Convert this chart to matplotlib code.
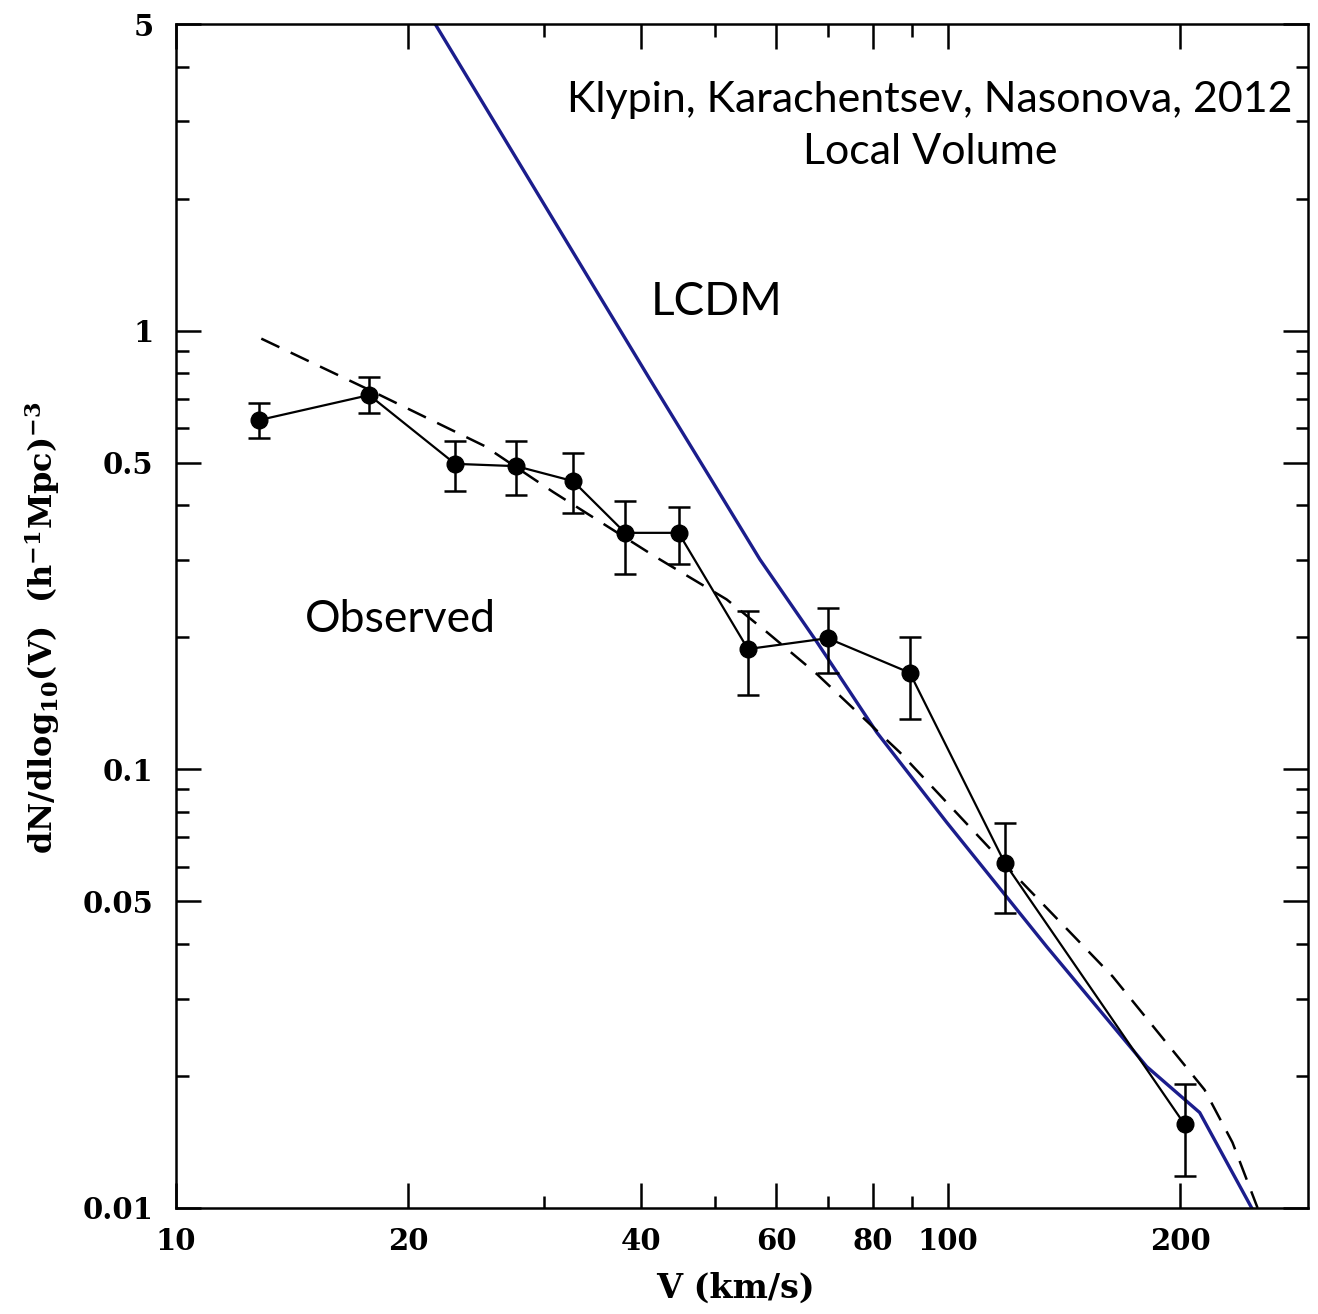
import matplotlib
matplotlib.use('Agg')
import matplotlib.pyplot as plt
import numpy as np
from matplotlib.ticker import FixedLocator, FixedFormatter, NullFormatter

plt.rcParams['mathtext.fontset'] = 'dejavuserif'

# observed points (V in km/s, dN/dlogV) with error bar ends
v_obs = [12.8, 17.8, 23.0, 27.6, 32.7, 38.2, 44.8, 55.1, 69.9, 89.3, 118.6, 202.8]
n_obs = [0.625, 0.713, 0.497, 0.491, 0.454, 0.346, 0.346, 0.188, 0.199, 0.166, 0.0611, 0.0155]
n_hi = [0.684, 0.784, 0.560, 0.560, 0.526, 0.409, 0.396, 0.230, 0.233, 0.200, 0.0754, 0.0192]
n_lo = [0.569, 0.649, 0.431, 0.422, 0.384, 0.279, 0.294, 0.148, 0.166, 0.130, 0.0470, 0.0118]

# LCDM prediction (blue)
v_lcdm = [21.6, 34.6, 41.1, 49.6, 57.1, 67.7, 80.9, 99.7, 134.4, 181.1, 212.1, 247.7]
n_lcdm = [5.05, 1.28, 0.776, 0.452, 0.301, 0.195, 0.1215, 0.0757, 0.0394, 0.0210, 0.0165, 0.0100]

# fit to observations (dashed)
v_fit = [12.9, 18.0, 25.1, 30.8, 41.7, 51.7, 58.3, 67.7, 86.7, 119.2, 163.6, 215.2, 233.9, 252.1]
n_fit = [0.959, 0.726, 0.546, 0.429, 0.306, 0.244, 0.2055, 0.1648, 0.1093, 0.0601, 0.0337, 0.0186, 0.0141, 0.0100]

x_major = [10, 20, 40, 60, 80, 100, 200]
x_minor = [30, 50, 70, 90]
y_major = [0.01, 0.05, 0.1, 0.5, 1, 5]
y_labels = ['0.01', '0.05', '0.1', '0.5', '1', '5']
y_minor = [0.02, 0.03, 0.04, 0.06, 0.07, 0.08, 0.09, 0.2, 0.3, 0.4,
           0.6, 0.7, 0.8, 0.9, 2, 3, 4]

fig = plt.figure(figsize=(13.18, 13.14), dpi=100)
ax = fig.add_axes([0.1335, 0.0807, 0.8589, 0.9010])

ax.plot(v_lcdm, n_lcdm, color='#1b1d8c', lw=2.4, zorder=2)
ax.plot(v_fit, n_fit, color='black', lw=1.8, ls=(0, (8, 5)), zorder=3)

n_obs = np.array(n_obs)
yerr = [n_obs - np.array(n_lo), np.array(n_hi) - n_obs]
ax.errorbar(v_obs, n_obs, yerr=yerr, fmt='o-', color='black', ms=12, lw=1.6,
            elinewidth=1.8, capsize=8, capthick=1.8, zorder=4)

ax.set_xscale('log')
ax.set_yscale('log')
ax.set_xlim(10, 293)
ax.set_ylim(0.01, 5)

ax.xaxis.set_major_locator(FixedLocator(x_major))
ax.xaxis.set_major_formatter(FixedFormatter([str(v) for v in x_major]))
ax.xaxis.set_minor_locator(FixedLocator(x_minor))
ax.xaxis.set_minor_formatter(NullFormatter())
ax.yaxis.set_major_locator(FixedLocator(y_major))
ax.yaxis.set_major_formatter(FixedFormatter(y_labels))
ax.yaxis.set_minor_locator(FixedLocator(y_minor))
ax.yaxis.set_minor_formatter(NullFormatter())

ax.tick_params(which='both', direction='in', top=True, right=True, width=1.8)
ax.tick_params(which='major', length=18)
ax.tick_params(which='minor', length=9)
ax.tick_params(axis='y', which='major', pad=16)
ax.tick_params(axis='x', which='major', pad=14)
for lab in ax.get_xticklabels() + ax.get_yticklabels():
    lab.set_family('DejaVu Serif')
    lab.set_weight('bold')
    lab.set_size(21)
for s in ax.spines.values():
    s.set_linewidth(1.8)

ax.set_xlabel('V (km/s)', family='DejaVu Serif', weight='bold', size=24, va='center')
ax.xaxis.set_label_coords(0.494, -0.068)
ax.set_ylabel('dN/dlog$_{\\mathbf{10}}$(V)  (h$^{\\mathbf{-1}}$Mpc)$^{\\mathbf{-3}}$',
              family='DejaVu Serif', weight='bold', size=23, va='center')
ax.yaxis.set_label_coords(-0.118, 0.49)

ax.text(0.666, 0.936, 'Klypin, Karachentsev, Nasonova, 2012', transform=ax.transAxes,
        ha='center', va='center', family='Lato', size=31)
ax.text(0.666, 0.892, 'Local Volume', transform=ax.transAxes,
        ha='center', va='center', family='Lato', size=31)
ax.text(0.478, 0.765, 'LCDM', transform=ax.transAxes,
        ha='center', va='center', family='Lato', size=33)
ax.text(0.198, 0.497, 'Observed', transform=ax.transAxes,
        ha='center', va='center', family='Lato', size=32)

fig.savefig('out.png', dpi=100)
